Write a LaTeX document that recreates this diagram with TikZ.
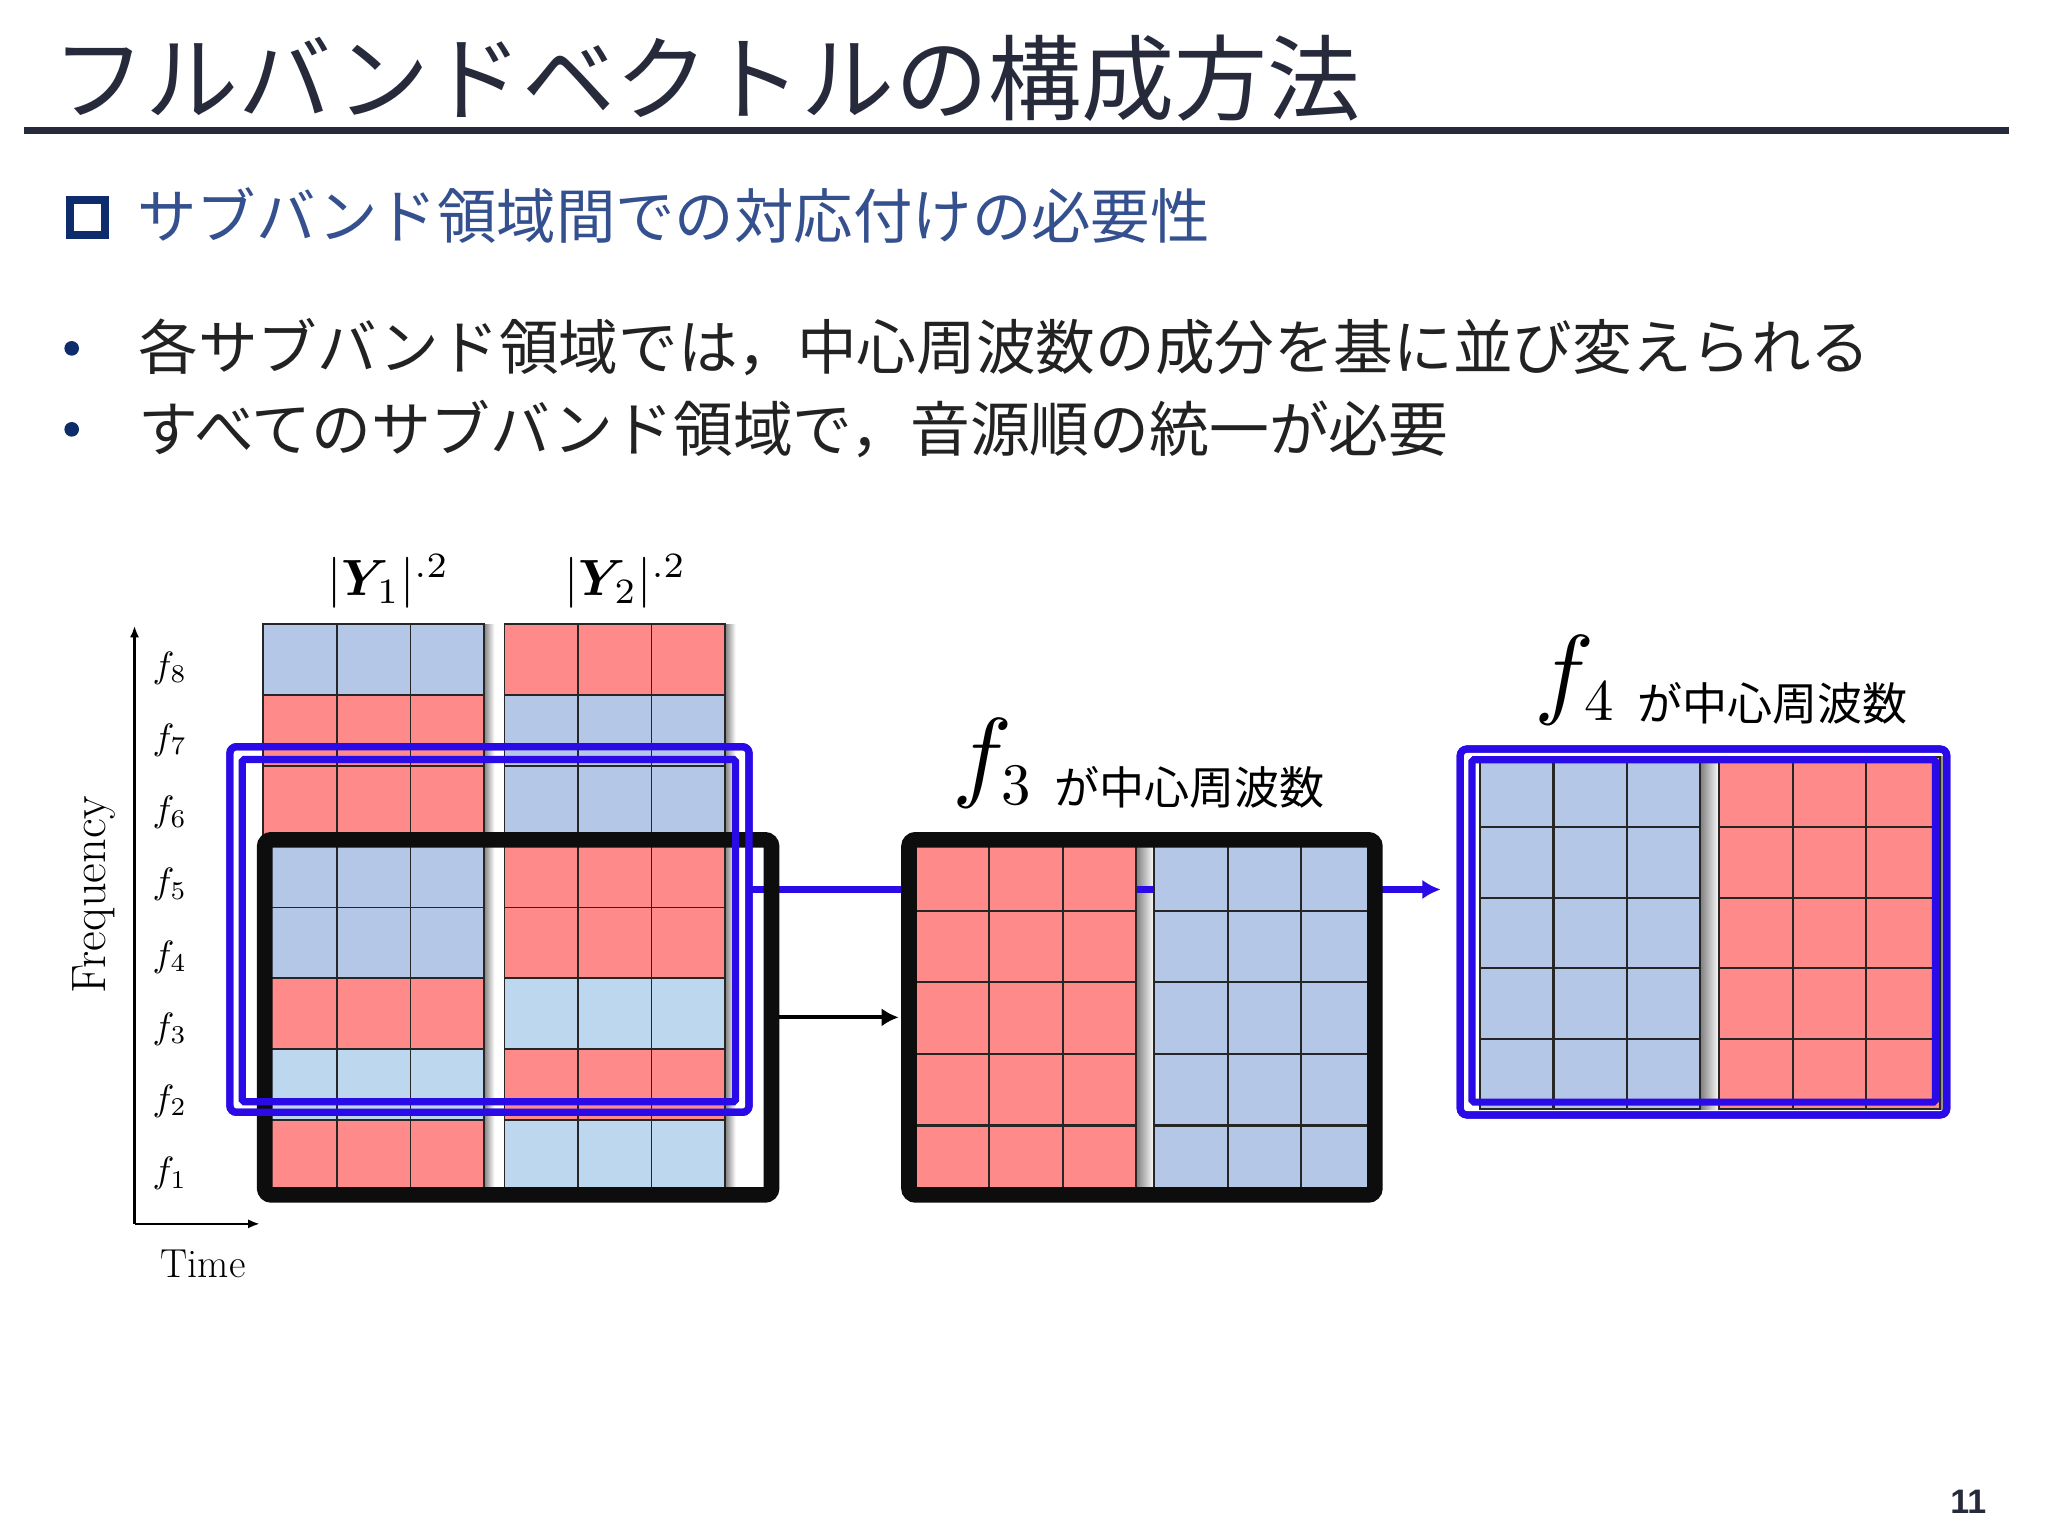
\documentclass[tikz,border=0pt]{standalone}
\usepackage{amsmath}
\usepackage{graphicx}
\usepackage{fontspec}
\newfontfamily\jp{Noto Sans CJK JP}
\newfontfamily\pnum{Liberation Sans}
\usetikzlibrary{arrows.meta}
\definecolor{cred}{HTML}{FF8A8A}
\definecolor{cblue}{HTML}{B4C7E7}
\definecolor{clblue}{HTML}{BDD7EE}
\definecolor{vblue}{RGB}{42,10,230}
\definecolor{titlec}{HTML}{262A3B}
\definecolor{subc}{HTML}{34508E}
\definecolor{navy}{HTML}{0E2C6C}
\definecolor{textc}{HTML}{222222}
\begin{document}
\begin{tikzpicture}[x=1pt,y=-1pt,
  cellst/.style={draw=black!85, line width=1.3pt},
  blackbox/.style={draw=black!95, line width=12pt, rounded corners=5pt, inner sep=0pt, outer sep=0pt},
  bluebox/.style={draw=vblue, line width=5.5pt, rounded corners=5pt, inner sep=0pt, outer sep=0pt},
  blueinner/.style={draw=vblue, line width=5.5pt, rounded corners=1.5pt, inner sep=0pt, outer sep=0pt},
  shadowst/.style={left color=black!50, right color=white},
  axisst/.style={draw=black, line width=1.8pt, -{Latex[length=9pt,width=7pt]}},
  txt/.style={anchor=base west, inner sep=0pt, outer sep=0pt}]
\useasboundingbox (0,0) rectangle (1568,1176);
\fill[white] (0,0) rectangle (1568,1176);

% ---------- header ----------
\node[txt, text=titlec] (title) at (40,87) {\jp\fontsize{71.3}{71.3}\selectfont フルバンドベクトルの構成方法};
\coordinate (ruleL) at (18,99.8);
\coordinate (ruleR) at (1538,99.8);
\draw[titlec, line width=5.6pt] (ruleL) -- (ruleR);

\node[draw=navy, line width=6.4pt, minimum size=26.8pt, inner sep=0pt] (sq) at (67.1,166.6) {};
\node[txt, text=subc] (sub) at (105,182.5) {\jp\fontsize{45.5}{45.5}\selectfont サブバンド領域間での対応付けの必要性};

\node[circle, fill=navy, minimum size=11.2pt, inner sep=0pt] (d1) at (54.9,266.7) {};
\node[circle, fill=navy, minimum size=11.2pt, inner sep=0pt] (d2) at (54.9,328.7) {};
\node[txt, text=textc] (b1) at (106,282.8) {\jp\fontsize{45.65}{45.65}\selectfont 各サブバンド領域では，中心周波数の成分を基に並び変えられる};
\node[txt, text=textc] (b2) at (106,345.3) {\jp\fontsize{45.8}{45.8}\selectfont すべてのサブバンド領域で，音源順の統一が必要};

\node[anchor=base, inner sep=0pt, text=titlec] (pg) at (1507,1158.7) {\pnum\bfseries\fontsize{26}{26}\selectfont 11};

% ---------- shadows ----------
\shade[shadowst] (370.5,478) rectangle (378.5,911.6);
\shade[shadowst] (555.2,478) rectangle (563.2,911.6);
\shade[shadowst] (869.9,642.5) rectangle (883.6,916.5);
\shade[shadowst] (1301.8,579.4) rectangle (1316.3,849.4);
\shade[shadowst] (1485.2,579.4) rectangle (1493.2,849.4);

% ---------- blue connector (behind) ----------
\node[bluebox, minimum width=397.5pt, minimum height=279.9pt] (blo1) at (374.75,711.65) {};
\node[bluebox, minimum width=372.5pt, minimum height=280.1pt] (blo4) at (1304.25,713.55) {};
\coordinate (yl) at (0,681);
\draw[vblue, line width=5pt, shorten >=15pt, -{Latex[length=14pt,width=15pt]}] (blo1.east |- yl) -- (blo4.west |- yl);

% ---------- left spectrogram grids ----------
\foreach \c [count=\i from 0] in {cblue,cred,cred,cblue,cblue,cred,clblue,cred} {
  \foreach \j in {0,1,2} \draw[cellst, fill=\c] ({201.6+56.3*\j},{478+54.2*\i}) rectangle +(56.3,54.2);
}
\foreach \c [count=\i from 0] in {cred,cblue,cblue,cred,cred,clblue,cred,clblue} {
  \foreach \j in {0,1,2} \draw[cellst, fill=\c] ({386.3+56.3*\j},{478+54.2*\i}) rectangle +(56.3,54.2);
}

% ---------- f3 box grid ----------
\foreach \i in {0,...,4} {
  \foreach \j in {0,1,2} {
    \draw[cellst, line width=1.6pt, fill=cred] ({701+56.3*\j},{642.5+54.8*\i}) rectangle +(56.3,54.8);
    \draw[cellst, line width=1.6pt, fill=cblue] ({883.6+56.3*\j},{642.5+54.8*\i}) rectangle +(56.3,54.8);
  }
}
% ---------- f4 box grid ----------
\foreach \i in {0,...,4} {
  \foreach \j in {0,1,2} {
    \draw[cellst, line width=1.6pt, fill=cblue] ({1133.2+56.2*\j},{579.4+54*\i}) rectangle +(56.2,54);
    \draw[cellst, line width=1.6pt, fill=cred] ({1316.3+56.3*\j},{579.4+54*\i}) rectangle +(56.3,54);
  }
}

% ---------- black boxes ----------
\node[blackbox, minimum width=388pt, minimum height=271.8pt] (bk1) at (396.7,778.9) {};
\node[blackbox, minimum width=356.6pt, minimum height=271.8pt] (bk2) at (874.3,778.9) {};
\draw[black, line width=3pt, shorten <=6pt, shorten >=8pt, -{Latex[length=13pt,width=14pt]}] (bk1.east) -- (bk2.west);

% ---------- blue boxes (on top) ----------
\node[bluebox, minimum width=397.5pt, minimum height=279.9pt] (blo1b) at (374.75,711.65) {};
\node[blueinner, minimum width=377.7pt, minimum height=262pt] (bli1) at (374.35,712.5) {};
\node[bluebox, minimum width=372.5pt, minimum height=280.1pt] (blo4b) at (1304.25,713.55) {};
\node[blueinner, minimum width=354.8pt, minimum height=262.1pt] (bli4) at (1304.4,712.75) {};

% ---------- axes ----------
\coordinate (ax0) at (103,937);
\coordinate (axY) at (103,479);
\coordinate (axX) at (199,937);
\draw[axisst] (ax0) -- (axY);
\draw[axisst] (ax0) -- (axX);
\node[rotate=90, inner sep=0pt] (freq) at (72,685) {\fontsize{37}{37}\selectfont Frequency};
\node[inner sep=0pt] (time) at (155.5,968) {\fontsize{31}{31}\selectfont Time};
\foreach \k [count=\n from 0] in {8,7,6,5,4,3,2,1} {
  \node[inner sep=0pt] (fl\k) at (130,{511.4+55.3*\n}) {\scalebox{2.8}{$f_{\k}$}};
}

% ---------- labels ----------
\node[inner sep=0pt] (ly1) at (297.4,445) {\scalebox{3.9}{$|\boldsymbol{Y}_{\mkern-5mu 1}|^{.2}$}};
\node[inner sep=0pt] (ly2) at (479,445) {\scalebox{3.9}{$|\boldsymbol{Y}_{\mkern-5mu 2}|^{.2}$}};
\node[txt] (lab3) at (729,616) {\raisebox{12pt}{\scalebox{7.7}{$f$}}\kern-8pt\scalebox{4.5}{$3$}\hspace{18pt}{\jp\fontsize{34.5}{34.5}\selectfont が中心周波数}};
\node[txt] (lab4) at (1175,552) {\raisebox{12pt}{\scalebox{7.7}{$f$}}\kern-8pt\scalebox{4.5}{$4$}\hspace{18pt}{\jp\fontsize{34.5}{34.5}\selectfont が中心周波数}};
\end{tikzpicture}
\end{document}
